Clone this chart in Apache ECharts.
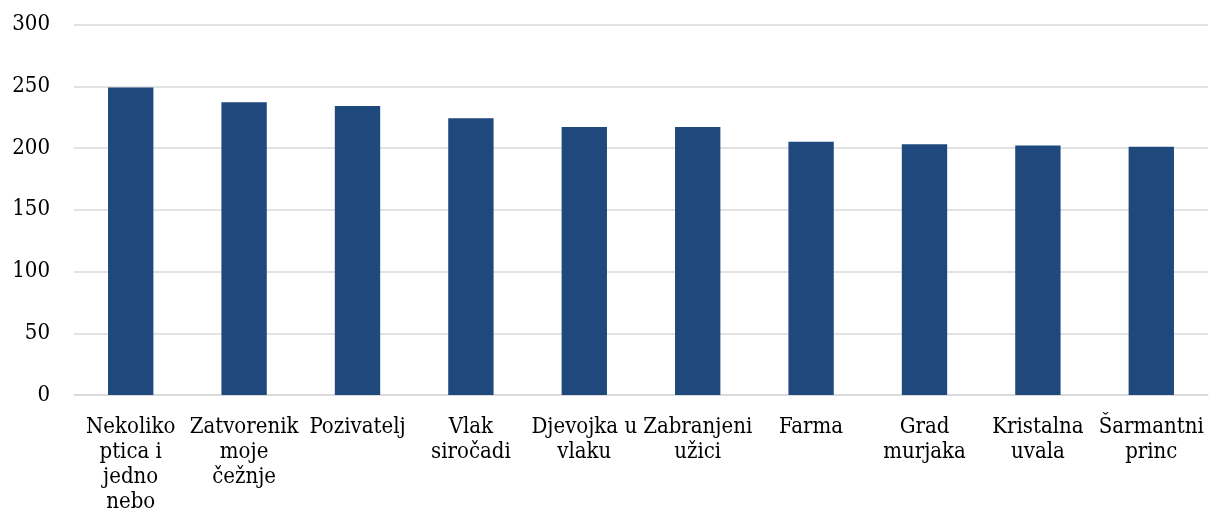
<!DOCTYPE html>
<html>
<head>
<meta charset="utf-8">
<script src="https://cdn.jsdelivr.net/npm/echarts@6/dist/echarts.min.js"></script>
<style>
  html, body { margin: 0; padding: 0; background: #fff; }
  #bar { width: 1212px; height: 518px; }
</style>
</head>
<body>
<div id="bar"></div>
<script>
// kategorije (prijelomi redaka kao na slici)
var categories = [
  "Nekoliko\nptica i\njedno\nnebo",
  "Zatvorenik\nmoje\nčežnje",
  "Pozivatelj",
  "Vlak\nsiročadi",
  "Djevojka u\nvlaku",
  "Zabranjeni\nužici",
  "Farma",
  "Grad\nmurjaka",
  "Kristalna\nuvala",
  "Šarmantni\nprinc"
];
var values = [249, 237, 234, 224, 217, 217, 205, 203, 202, 201];
var yMin = 0, yMax = 300, yStep = 50;

var font = "'DejaVu Serif Condensed', 'DejaVu Serif'";
var myChart = echarts.init(document.getElementById("bar"));
var options = {
  animation: false,
  grid: { left: 74, right: 4, top: 24.5, bottom: 123 },
  xAxis: {
    type: "category",
    data: categories,
    axisLine: { lineStyle: { color: "#d9d9d9", width: 1.5 } },
    axisTick: { show: false },
    axisLabel: {
      interval: 0,
      margin: 20,
      color: "#000",
      fontFamily: font,
      fontSize: 22,
      lineHeight: 25
    }
  },
  yAxis: {
    type: "value",
    min: yMin,
    max: yMax,
    interval: yStep,
    axisLine: { show: false },
    axisTick: { show: false },
    splitLine: { lineStyle: { color: "#d9d9d9", width: 1.5 } },
    axisLabel: {
      margin: 24,
      color: "#000",
      fontFamily: font,
      fontSize: 22
    }
  },
  series: [
    {
      type: "bar",
      data: values,
      barWidth: "40%",
      itemStyle: { color: "#1F497D" }
    }
  ]
};
myChart.setOption(options);
</script>
</body>
</html>
